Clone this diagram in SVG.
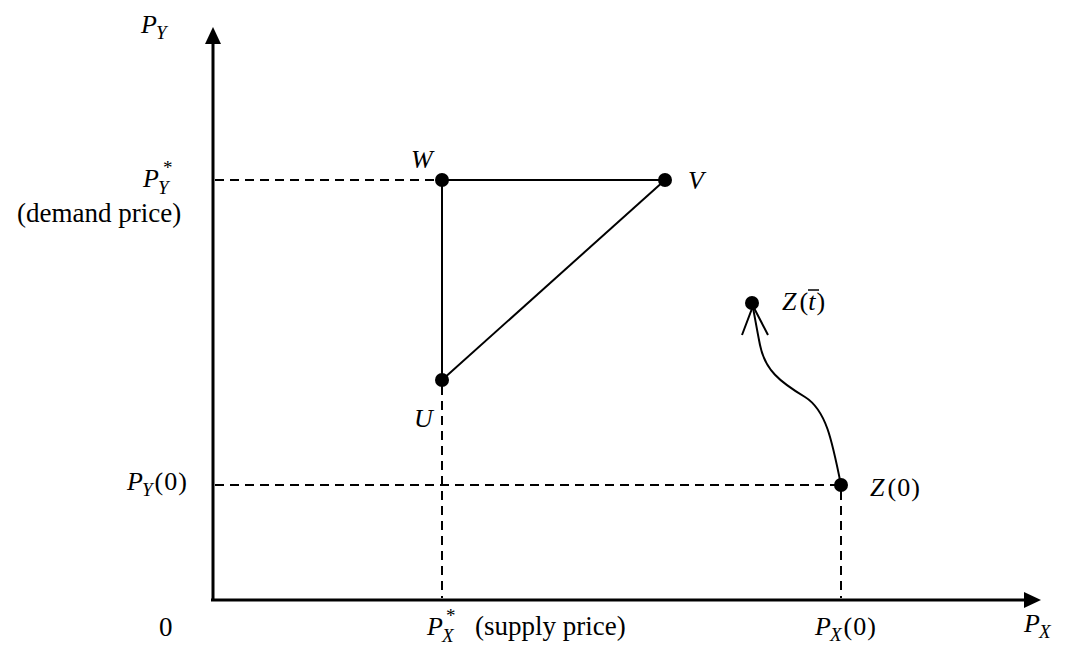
<svg xmlns="http://www.w3.org/2000/svg" width="1069" height="646" viewBox="0 0 1069 646">
<style>
.ax{stroke:#000;stroke-width:3;fill:none}
.ln{stroke:#000;stroke-width:2;fill:none}
.dash{stroke:#000;stroke-width:2;fill:none;stroke-dasharray:9,6}
.dot{fill:#000}
.m{font-family:"Liberation Serif",serif;font-style:italic;font-size:26px;fill:#000}
.s{font-family:"Liberation Serif",serif;font-size:19px;font-style:italic}
.st{font-family:"Liberation Serif",serif;font-size:19px;fill:#000}
.n{font-style:normal}
.r{font-family:"Liberation Serif",serif;font-size:27px;fill:#000}
</style>
<g id="connectors">
<line class="ax" x1="213" y1="601" x2="213" y2="40"/>
<path d="M205,44 L213,27 L221,44 Z" fill="#000"/>
<line class="ax" x1="211" y1="600" x2="1028" y2="600"/>
<path d="M1024,592 L1041,600 L1024,608 Z" fill="#000"/>
<line class="dash" x1="215" y1="180" x2="436" y2="180"/>
<line class="dash" x1="442" y1="386" x2="442" y2="598"/>
<line class="dash" x1="215" y1="485" x2="835" y2="485"/>
<line class="dash" x1="841" y1="491" x2="841" y2="598"/>
<line class="ln" x1="442" y1="180" x2="665" y2="180"/>
<line class="ln" x1="442" y1="180" x2="442" y2="380"/>
<line class="ln" x1="442" y1="380" x2="665" y2="180"/>
<path class="ln" d="M841,485 C832,440 826,410 805,397 C780,382 765,370 760,345 C756,325 754,312 752,303"/>
<path class="ln" d="M742,335 L753,306 L768,335"/>
</g>
<g id="W"><circle class="dot" cx="442" cy="180" r="7"/><text class="m" x="411" y="168">W</text></g>
<g id="V"><circle class="dot" cx="665" cy="180" r="7"/><text class="m" x="688" y="189">V</text></g>
<g id="U"><circle class="dot" cx="442" cy="380" r="7"/><text class="m" x="414" y="427">U</text></g>
<g id="Z0"><circle class="dot" cx="841" cy="485" r="7"/><text class="m" x="870" y="496">Z<tspan class="n" dx="3">(</tspan><tspan class="n" dx="1">0</tspan><tspan class="n" dx="1">)</tspan></text></g>
<g id="Zt"><circle class="dot" cx="752" cy="303" r="7"/><text class="m" x="782" y="310">Z<tspan class="n" dx="3">(</tspan>t<tspan class="n" dx="1">)</tspan></text><line x1="808" y1="290" x2="819" y2="290" stroke="#000" stroke-width="1.5"/></g>
<g id="labels">
<text class="m" x="141" y="33">P<tspan class="s" dx="-1" dy="6">Y</tspan></text>
<text class="m" x="143" y="187">P<tspan class="s" dx="-1" dy="7">Y</tspan></text>
<text class="st" x="163" y="174">*</text>
<text class="r" x="17" y="222">(demand price)</text>
<text class="m" x="127" y="490">P<tspan class="s" dx="-1" dy="6">Y</tspan><tspan class="n" dx="2" dy="-6">(</tspan><tspan class="n" dx="1">0</tspan><tspan class="n" dx="1">)</tspan></text>
<text class="r" x="159" y="636">0</text>
<text class="m" x="427" y="635">P<tspan class="s" dx="-1" dy="7">X</tspan></text>
<text class="st" x="446" y="622">*</text>
<text class="r" x="475" y="635">(supply price)</text>
<text class="m" x="815" y="635">P<tspan class="s" dx="-1" dy="6">X</tspan><tspan class="n" dx="2" dy="-6">(</tspan><tspan class="n" dx="1">0</tspan><tspan class="n" dx="1">)</tspan></text>
<text class="m" x="1024" y="632">P<tspan class="s" dx="-1" dy="6">X</tspan></text>
</g>
</svg>
